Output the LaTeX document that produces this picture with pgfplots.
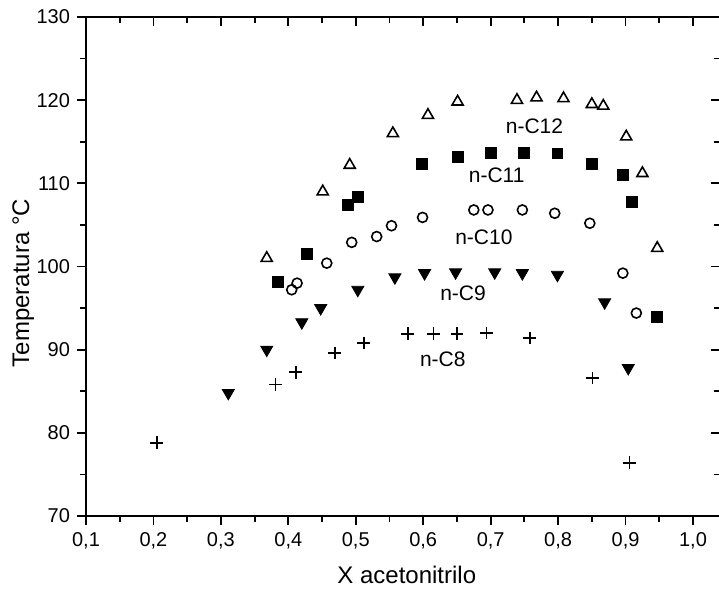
\documentclass[border=0pt]{standalone}
\usepackage{pgfplots}
\pgfplotsset{compat=1.18}
\usepackage{fontspec}
\setmainfont{Liberation Sans}
\begin{document}
\begin{tikzpicture}
\pgfplotsset{
  common/.style={
    scale only axis, width=317pt, height=249.5pt,
    at={(0,0)}, anchor=south west,
    xmin=0.1, xmax=1.04, ymin=70, ymax=130,
    xtick={0.1,0.2,...,1.0}, ytick={70,80,...,130},
    minor x tick num=1, minor y tick num=1,
    major tick length=4.5pt, minor tick length=2.8pt,
    axis line style={line width=1pt}, every tick/.style={black, line width=0.9pt},
  }
}
\begin{axis}[common,
  axis x line*=bottom, axis y line*=left, tick align=outside,
  /pgf/number format/assume math mode=true,
  /pgf/number format/use comma, /pgf/number format/fixed, /pgf/number format/precision=1,
  xticklabel style={font=\fontsize{10}{12}\selectfont, /pgf/number format/fixed zerofill},
  yticklabel style={font=\fontsize{10}{12}\selectfont, /pgf/number format/precision=0},
  xlabel={X acetonitrilo}, ylabel={Temperatura °C},
  xlabel style={font=\fontsize{12}{14}\selectfont, at={(axis description cs:0.506,-0.118)}, anchor=center},
  ylabel style={font=\fontsize{12}{14}\selectfont, at={(axis description cs:-0.099,0.467)}, anchor=center},
  clip=false,
]
% n-C12
\addplot[only marks, mark=triangle, mark size=3.2pt, black, thick] coordinates {
(0.368,101.0)(0.451,109.0)(0.491,112.2)(0.555,116.0)(0.607,118.2)(0.651,119.8)
(0.739,120.0)(0.768,120.3)(0.808,120.2)(0.850,119.5)(0.867,119.3)(0.901,115.6)
(0.925,111.2)(0.947,102.2)};
% n-C11
\addplot[only marks, mark=square*, mark size=2.7pt, black] coordinates {
(0.385,98.1)(0.427,101.5)(0.488,107.4)(0.503,108.4)(0.598,112.3)(0.651,113.2)
(0.700,113.7)(0.749,113.7)(0.799,113.6)(0.850,112.3)(0.896,111.0)(0.910,107.8)(0.946,93.9)};
% n-C10
\addplot[only marks, mark=o, mark size=2.5pt, black, thick] coordinates {
(0.405,97.2)(0.413,98.0)(0.457,100.4)(0.494,102.9)(0.531,103.6)(0.553,104.9)
(0.599,105.9)(0.675,106.8)(0.696,106.8)(0.747,106.8)(0.795,106.4)(0.847,105.2)
(0.896,99.2)(0.916,94.4)};
% n-C9
\addplot[only marks, mark=triangle*, mark options={rotate=180}, mark size=3.5pt, black] coordinates {
(0.311,84.8)(0.368,90.0)(0.420,93.3)(0.448,95.0)(0.503,97.2)(0.558,98.7)(0.602,99.2)
(0.648,99.3)(0.706,99.3)(0.747,99.2)(0.799,99.0)(0.869,95.7)(0.904,87.8)};
% n-C8
\addplot[only marks, mark=+, mark size=3.2pt, black, thick] coordinates {
(0.205,78.8)(0.381,85.8)(0.411,87.3)(0.469,89.6)(0.512,90.8)(0.577,91.9)(0.615,91.9)
(0.650,91.9)(0.694,92.0)(0.758,91.4)(0.851,86.6)(0.906,76.4)};
\node[font=\fontsize{10.5}{12}\selectfont] at (axis cs:0.765,116.9) {n-C12};
\node[font=\fontsize{10.5}{12}\selectfont] at (axis cs:0.709,111.0) {n-C11};
\node[font=\fontsize{10.5}{12}\selectfont] at (axis cs:0.690,103.5) {n-C10};
\node[font=\fontsize{10.5}{12}\selectfont] at (axis cs:0.659,96.8) {n-C9};
\node[font=\fontsize{10.5}{12}\selectfont] at (axis cs:0.629,88.8) {n-C8};
\end{axis}
\begin{axis}[common,
  axis x line*=top, axis y line*=right, tick align=inside,
  xticklabels={}, yticklabels={},
]
\addplot[draw=none] coordinates {(0.5,100)};
\end{axis}
\pgfresetboundingbox
\path[use as bounding box] (-43pt,-38pt) rectangle (316.5pt,258pt);
\end{tikzpicture}
\end{document}
